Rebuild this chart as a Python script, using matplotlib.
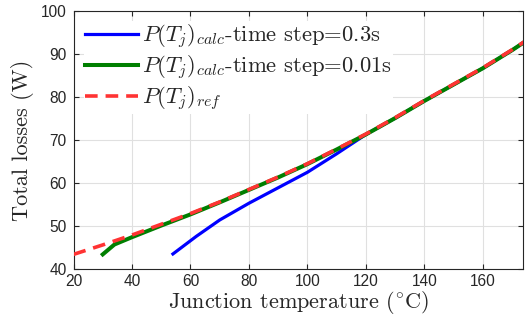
import matplotlib
matplotlib.use("Agg")
import matplotlib.pyplot as plt

# Reference curve
t_ref = [20, 30, 40, 50, 60, 70, 80, 90, 100, 110, 120, 130, 140, 150, 160, 170, 174]
p_ref = [43.4, 45.6, 47.9, 50.4, 52.9, 55.6, 58.5, 61.4, 64.5, 67.9, 71.4, 75.2, 79.2, 83.0, 86.8, 91.0, 92.8]

# Calc, time step 0.3 s
t_03 = [54, 62, 70, 80, 90, 100, 110, 118, 120, 130, 140, 150, 160, 170, 174]
p_03 = [43.5, 47.6, 51.4, 55.3, 58.9, 62.5, 66.8, 70.4, 71.3, 75.1, 79.1, 82.9, 86.7, 90.9, 92.7]

# Calc, time step 0.01 s
t_001 = [30, 34, 40, 50, 60, 70, 80, 90, 100, 110, 120, 130, 140, 150, 160, 170, 174]
p_001 = [43.4, 45.7, 47.4, 50.1, 52.7, 55.5, 58.4, 61.3, 64.4, 67.8, 71.3, 75.1, 79.1, 82.9, 86.7, 90.9, 92.7]

xticks = [20, 40, 60, 80, 100, 120, 140, 160]
yticks = [40, 50, 60, 70, 80, 90, 100]

plt.rcParams['mathtext.fontset'] = 'cm'
plt.rcParams['font.family'] = ['Liberation Sans', 'DejaVu Sans']

fig = plt.figure(figsize=(5.25, 3.22), dpi=100)
ax = fig.add_axes([73.5 / 525, 1 - 269 / 322, (522.7 - 73.5) / 525, (269 - 11) / 322])

ax.plot(t_03, p_03, color='#0000ff', lw=2.3, label=r'$P(T_j)_{calc}$-time step=0.3s', zorder=3)
ax.plot(t_001, p_001, color='#007f00', lw=2.9, label=r'$P(T_j)_{calc}$-time step=0.01s', zorder=4)
ax.plot(t_ref, p_ref, color='#ff3333', lw=2.6, ls=(0, (3.5, 2.2)), label=r'$P(T_j)_{ref}$', zorder=5)

ax.set_xlim(20, 173.6)
ax.set_ylim(40, 100)
ax.set_xticks(xticks)
ax.set_yticks(yticks)
ax.grid(True, color='#e0e0e0', lw=0.8)
ax.set_axisbelow(True)
ax.tick_params(direction='in', top=True, right=True, length=3.5, width=0.8,
               labelsize=11.2, colors='#262626', labelcolor='#262626')
ax.tick_params(axis='x', pad=3.5)
ax.tick_params(axis='y', pad=5)
for s in ax.spines.values():
    s.set_color('#262626')
    s.set_linewidth(0.8)

ax.set_xlabel(r'Junction temperature ($^{\circ}$C)', fontfamily='cmr10', fontsize=16, color='#262626', labelpad=0)
ax.set_ylabel(r'Total losses (W)', fontfamily='cmr10', fontsize=16, color='#262626', labelpad=5)

leg = ax.legend(loc='upper left', frameon=True, fancybox=False, edgecolor='none', framealpha=1,
                prop={'family': 'cmr10', 'size': 16.3}, handlelength=2.3, handletextpad=0.18,
                labelspacing=0.12, borderaxespad=0.45, borderpad=0.08)
leg.set_zorder(2.5)
for t in leg.get_texts():
    t.set_color('#262626')

fig.savefig('out.png', dpi=100)
